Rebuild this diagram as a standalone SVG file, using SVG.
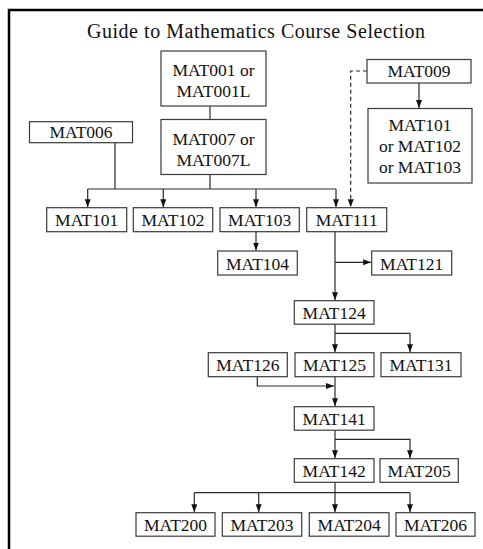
<svg xmlns="http://www.w3.org/2000/svg" width="483" height="549" viewBox="0 0 483 549">
<style>
.b{fill:#fff;stroke:#3a3a3a;stroke-width:1.2}
.t{font-family:"Liberation Serif","Times New Roman",serif;font-size:17.5px;fill:#111;text-anchor:middle}
.c{fill:none;stroke:#2a2a2a;stroke-width:1.2}
.a{marker-end:url(#ah)}
.d{stroke-dasharray:4,3}
</style>
<defs>
<marker id="ah" markerUnits="userSpaceOnUse" markerWidth="8" markerHeight="7" refX="8" refY="3" orient="auto">
<path d="M0,0 L8,3 L0,6 z" fill="#111"/>
</marker>
</defs>
<rect width="483" height="549" fill="#fff"/>
<path d="M9,549 V10 H483" fill="none" stroke="#000" stroke-width="2.5"/>
<text x="256" y="37.5" font-family="'Liberation Serif','Times New Roman',serif" font-size="20" fill="#111" text-anchor="middle" textLength="338" lengthAdjust="spacing">Guide to Mathematics Course Selection</text>

<g id="connectors">
<path class="c" d="M210,106 V119.5"/>
<path class="c" d="M210,174.5 V189"/>
<path class="c" d="M115,142.7 V189"/>
<path class="c" d="M87.7,189 H336"/>
<path class="c a" d="M87.7,189 V207.2"/>
<path class="c a" d="M163.3,189 V207.2"/>
<path class="c a" d="M256,189 V207.2"/>
<path class="c a" d="M336,189 V207.2"/>
<path class="c a d" d="M367,71 H350.7 V207.2"/>
<path class="c a" d="M419,83 V108"/>
<path class="c a" d="M256,231.7 V250.5"/>
<path class="c a" d="M335,231.7 V300.2"/>
<path class="c a" d="M335,262.3 H371.2"/>
<path class="c a" d="M335,324.2 V352.2"/>
<path class="c a" d="M335,333.3 H410 V352.2"/>
<path class="c a" d="M257.3,376.7 V386 H334"/>
<path class="c a" d="M335,376.7 V406.2"/>
<path class="c a" d="M335,430.2 V458.2"/>
<path class="c a" d="M335,439.3 H410 V458.2"/>
<path class="c a" d="M335,482.3 V512.2"/>
<path class="c" d="M194.3,492.7 H410"/>
<path class="c a" d="M194.3,492.7 V512.2"/>
<path class="c a" d="M258.7,492.7 V512.2"/>
<path class="c a" d="M410,492.7 V512.2"/>
</g>

<g id="MAT001"><rect class="b" x="161" y="51" width="105" height="55"/><text class="t" x="213.5" y="76">MAT001 or</text><text class="t" x="213.5" y="96.7">MAT001L</text></g>
<g id="MAT007"><rect class="b" x="161" y="119.5" width="105" height="55"/><text class="t" x="213.5" y="144.5">MAT007 or</text><text class="t" x="213.5" y="165.5">MAT007L</text></g>
<g id="MAT006"><rect class="b" x="29.5" y="121.7" width="103" height="21"/><text class="t" x="81" y="138.3">MAT006</text></g>
<g id="MAT009"><rect class="b" x="367" y="59.5" width="104" height="23.5"/><text class="t" x="419" y="77">MAT009</text></g>
<g id="MAT10x"><rect class="b" x="368" y="108.5" width="104" height="74.5"/><text class="t" x="420" y="130.7">MAT101</text><text class="t" x="420" y="151.7">or MAT102</text><text class="t" x="420" y="172.7">or MAT103</text></g>
<g id="MAT101"><rect class="b" x="46.7" y="207.7" width="80" height="24"/><text class="t" x="86.7" y="226.2">MAT101</text></g>
<g id="MAT102"><rect class="b" x="133.3" y="207.7" width="79.4" height="24"/><text class="t" x="173" y="226.2">MAT102</text></g>
<g id="MAT103"><rect class="b" x="220" y="207.7" width="79.3" height="24"/><text class="t" x="259.7" y="226.2">MAT103</text></g>
<g id="MAT111"><rect class="b" x="306.7" y="207.7" width="80" height="24"/><text class="t" x="346.7" y="226.2">MAT111</text></g>
<g id="MAT104"><rect class="b" x="217.7" y="251" width="79.6" height="24"/><text class="t" x="257.5" y="269.5">MAT104</text></g>
<g id="MAT121"><rect class="b" x="371.7" y="251" width="80" height="24"/><text class="t" x="411.7" y="269.5">MAT121</text></g>
<g id="MAT124"><rect class="b" x="294.3" y="300.7" width="79.7" height="23.5"/><text class="t" x="334.2" y="319">MAT124</text></g>
<g id="MAT126"><rect class="b" x="208.3" y="352.7" width="79" height="24"/><text class="t" x="247.8" y="371.2">MAT126</text></g>
<g id="MAT125"><rect class="b" x="295" y="352.7" width="79" height="24"/><text class="t" x="334.5" y="371.2">MAT125</text></g>
<g id="MAT131"><rect class="b" x="381" y="352.7" width="80" height="24"/><text class="t" x="421" y="371.2">MAT131</text></g>
<g id="MAT141"><rect class="b" x="294.3" y="406.7" width="79.7" height="23.5"/><text class="t" x="334.2" y="425">MAT141</text></g>
<g id="MAT142"><rect class="b" x="294.3" y="458.7" width="79.7" height="23.6"/><text class="t" x="334.2" y="477">MAT142</text></g>
<g id="MAT205"><rect class="b" x="380" y="458.7" width="78.3" height="23.6"/><text class="t" x="419.2" y="477">MAT205</text></g>
<g id="MAT200"><rect class="b" x="136" y="512.7" width="79" height="23.5"/><text class="t" x="175.5" y="531">MAT200</text></g>
<g id="MAT203"><rect class="b" x="222.3" y="512.7" width="79.4" height="23.5"/><text class="t" x="262" y="531">MAT203</text></g>
<g id="MAT204"><rect class="b" x="309.3" y="512.7" width="79.7" height="23.5"/><text class="t" x="349.2" y="531">MAT204</text></g>
<g id="MAT206"><rect class="b" x="396" y="512.7" width="79" height="23.5"/><text class="t" x="435.5" y="531">MAT206</text></g>
</svg>
